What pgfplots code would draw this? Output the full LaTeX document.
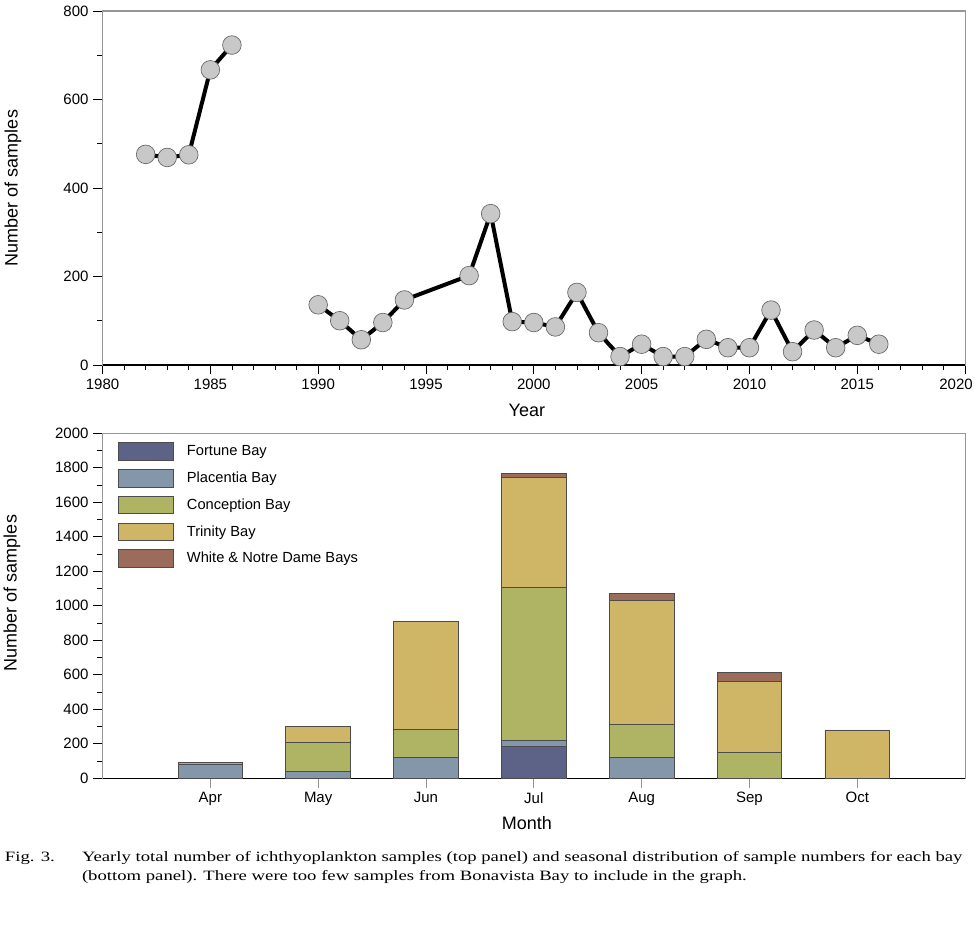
\documentclass[border=0pt]{standalone}
\usepackage{fontspec}
\setmainfont{Liberation Sans}
\newfontfamily\capfont[FakeStretch=1.31]{Liberation Serif}
\usepackage{pgfplots}
\pgfplotsset{compat=1.18}

\definecolor{fortune}{RGB}{92,99,134}
\definecolor{placentia}{RGB}{132,150,170}
\definecolor{conception}{RGB}{175,180,100}
\definecolor{trinity}{RGB}{207,181,102}
\definecolor{whitend}{RGB}{155,108,90}
\definecolor{dotfill}{RGB}{200,200,200}
\definecolor{boxgray}{RGB}{150,150,150}

\pgfplotsset{
  panel/.style={
    scale only axis,
    anchor=south west,
    width=646.9pt,
    axis line style={boxgray, line width=0.8pt},
    tick align=outside,
    tick pos=left,
    major tick length=7pt,
    minor tick length=4pt,
    tick style={black, line width=0.6pt},
    /pgf/number format/assume math mode=true,
    /pgf/number format/1000 sep={},
    tick label style={font=\fontsize{11.25}{13}\selectfont},
    label style={font=\fontsize{13.5}{16}\selectfont},
    ylabel={Number of samples},
  },
}

\pgfplotstableread{
month fortune placentia conception trinity white
1 0   81  12  0   0
2 0   41  168 91  0
3 0   122 162 624 0
4 186 32  889 638 23
5 0   122 191 717 42
6 0   0   151 409 54
7 0   0   0   280 0
}\bays

\begin{document}
\begin{tikzpicture}
\path[use as bounding box] (0,0) rectangle (731.25pt,697.5pt);

% top panel: yearly totals
\begin{axis}[panel,
  at={(76.9pt,423.75pt)},
  height=265.5pt,
  xmin=1980, xmax=2020, ymin=0, ymax=800,
  xtick={1980,1985,...,2020}, minor x tick num=4,
  xticklabels={1980,1985,1990,1995,2000,2005,2010,2015,\makebox[0pt]{\hspace*{-13.5pt}2020}},
  ytick={0,200,...,800}, minor y tick num=1,
  xlabel={Year},
  xlabel style={at={(axis description cs:0.492,-0.127)}, anchor=center},
  ylabel style={at={(axis description cs:-0.1038,0.5)}, anchor=center},
  unbounded coords=jump,
  clip=false,
]
\addplot[black, line width=3pt, mark=*, mark size=7pt,
  mark options={fill=dotfill, draw=gray!80!black, line width=0.5pt}]
  coordinates {
  (1982,476) (1983,469) (1984,475) (1985,667) (1986,723)
  (1988,nan)
  (1990,136) (1991,100) (1992,57) (1993,96) (1994,147)
  (1997,202) (1998,342) (1999,98) (2000,96) (2001,86)
  (2002,164) (2003,73) (2004,19) (2005,47) (2006,19)
  (2007,19) (2008,58) (2009,39) (2010,39) (2011,124)
  (2012,30) (2013,79) (2014,39) (2015,67) (2016,47)
};
\draw[black, line width=0.8pt] (rel axis cs:0,0) -- (rel axis cs:1,0);
\end{axis}

% bottom panel: seasonal distribution by bay
\begin{axis}[panel,
  at={(76.9pt,113.8pt)},
  height=258.75pt,
  ybar stacked, bar width=0.6,
  xmin=0, xmax=8, ymin=0, ymax=2000,
  xtick={1,...,7},
  xticklabels={Apr,May,Jun,Jul,Aug,Sep,Oct},
  x tick style={boxgray},
  ytick={0,200,...,2000}, minor y tick num=1,
  xlabel={Month},
  xlabel style={at={(axis description cs:0.492,-0.1304)}, anchor=center},
  ylabel style={at={(axis description cs:-0.105,0.537)}, anchor=center},
  every axis plot post/.append style={
    draw=black!70, line width=0.5pt,
    legend image code/.code={\draw[##1] (0pt,-6.6pt) rectangle (41pt,6.6pt);}},
  legend style={at={(0,1)}, anchor=north west, xshift=11.6pt, yshift=-6.5pt,
    draw=none, fill=none, inner sep=0pt,
    font=\fontsize{11}{13}\selectfont,
    nodes={inner sep=1pt, anchor=west},
    row sep=6.4pt, column sep=9pt},
  legend cell align=left,
]
\addplot[fill=fortune] table[x=month, y=fortune] {\bays};
\addplot[fill=placentia] table[x=month, y=placentia] {\bays};
\addplot[fill=conception] table[x=month, y=conception] {\bays};
\addplot[fill=trinity] table[x=month, y=trinity] {\bays};
\addplot[fill=whitend] table[x=month, y=white] {\bays};
\legend{Fortune Bay, Placentia Bay, Conception Bay, Trinity Bay, White \& Notre Dame Bays}
\draw[black, line width=0.8pt] (rel axis cs:0,0) -- (rel axis cs:1,0);
\end{axis}

% caption
\begin{scope}[every node/.style={inner sep=0pt, anchor=base west,
    font=\capfont\fontsize{10.7}{13}\selectfont}]
\node at (3.5pt,51.2pt) {Fig. 3.};
\node at (61.3pt,51.2pt) {Yearly total number of ichthyoplankton samples (top panel) and seasonal distribution of sample numbers for each bay};
\node at (61.3pt,36.75pt) {(bottom panel). There were too few samples from Bonavista Bay to include in the graph.};
\end{scope}
\end{tikzpicture}
\end{document}
